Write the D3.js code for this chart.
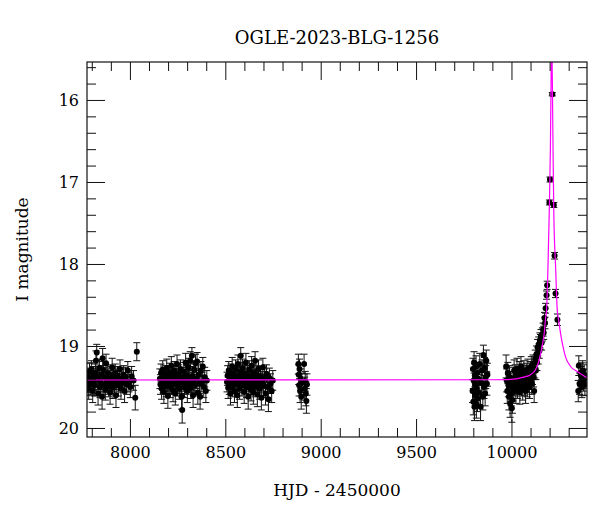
<!DOCTYPE html>
<html>
<head>
<meta charset="utf-8">
<script src="https://cdn.jsdelivr.net/npm/d3@7"></script>
<style>
  body { margin: 0; background: #fff; }
  text { font-family: "DejaVu Serif", serif; fill: #000; }
</style>
</head>
<body>
<div id="chart"></div>
<script>
// photometry per observing season: [HJD-2450000, I mag, error]
const season1 = [[7778,19.45,0.12],[7781,19.38,0.11],[7784,19.52,0.13],[7788,19.31,0.10],[7791,19.44,0.12],[7795,19.47,0.12],[7798,19.29,0.11],[7802,19.40,0.12],[7805,19.55,0.14],[7809,19.36,0.11],[7812,19.42,0.12],[7815,19.48,0.13],[7819,19.33,0.11],[7822,19.18,0.12],[7826,19.08,0.10],[7829,19.39,0.12],[7833,19.58,0.14],[7836,19.41,0.12],[7840,19.27,0.11],[7843,19.50,0.13],[7847,19.44,0.12],[7850,19.35,0.11],[7854,19.62,0.15],[7857,19.15,0.12],[7861,19.30,0.11],[7864,19.47,0.12],[7868,19.38,0.12],[7871,19.53,0.13],[7875,19.21,0.11],[7878,19.45,0.12],[7882,19.40,0.12],[7885,19.34,0.11],[7889,19.49,0.13],[7893,19.42,0.12],[7896,19.57,0.14],[7900,19.37,0.12],[7904,19.44,0.12],[7907,19.26,0.11],[7911,19.51,0.13],[7915,19.39,0.12],[7919,19.46,0.12],[7923,19.33,0.11],[7927,19.60,0.15],[7931,19.41,0.12],[7935,19.36,0.11],[7939,19.48,0.13],[7944,19.43,0.12],[7948,19.28,0.11],[7953,19.52,0.13],[7957,19.40,0.12],[7962,19.45,0.12],[7967,19.35,0.11],[7972,19.55,0.14],[7977,19.38,0.12],[7983,19.47,0.12],[7989,19.30,0.11],[7995,19.44,0.12],[8002,19.50,0.13],[8009,19.37,0.12],[8019,19.42,0.12],[8028,19.63,0.15],[8036,19.07,0.11]];
const season2 = [[8157,19.40,0.12],[8160,19.47,0.12],[8163,19.33,0.11],[8166,19.52,0.13],[8169,19.41,0.12],[8172,19.29,0.11],[8175,19.45,0.12],[8178,19.56,0.14],[8181,19.38,0.12],[8184,19.43,0.12],[8187,19.35,0.11],[8190,19.49,0.13],[8193,19.27,0.11],[8196,19.44,0.12],[8199,19.61,0.15],[8202,19.39,0.12],[8205,19.46,0.12],[8208,19.32,0.11],[8211,19.50,0.13],[8214,19.42,0.12],[8217,19.24,0.11],[8220,19.47,0.12],[8223,19.37,0.12],[8226,19.54,0.14],[8229,19.41,0.12],[8232,19.30,0.11],[8235,19.45,0.12],[8238,19.58,0.14],[8241,19.36,0.12],[8244,19.43,0.12],[8247,19.22,0.11],[8250,19.48,0.13],[8253,19.40,0.12],[8256,19.34,0.11],[8259,19.52,0.13],[8262,19.44,0.12],[8265,19.28,0.11],[8268,19.46,0.12],[8271,19.62,0.15],[8274,19.78,0.16],[8277,19.38,0.12],[8280,19.43,0.12],[8283,19.31,0.11],[8286,19.50,0.13],[8289,19.41,0.12],[8292,19.20,0.11],[8295,19.47,0.12],[8298,19.36,0.12],[8301,19.55,0.14],[8304,19.42,0.12],[8307,19.26,0.11],[8310,19.45,0.12],[8313,19.39,0.12],[8316,19.18,0.11],[8319,19.51,0.13],[8322,19.44,0.12],[8325,19.12,0.10],[8328,19.37,0.12],[8331,19.60,0.15],[8334,19.42,0.12],[8337,19.29,0.11],[8340,19.48,0.13],[8344,19.21,0.11],[8348,19.40,0.12],[8352,19.19,0.11],[8356,19.57,0.14],[8360,19.35,0.12],[8364,19.46,0.12],[8368,19.62,0.15],[8372,19.30,0.11],[8377,19.44,0.12],[8382,19.25,0.11],[8387,19.50,0.13],[8392,19.38,0.12],[8398,19.55,0.14],[8403,19.42,0.12]];
const season3 = [[8509,19.44,0.12],[8512,19.36,0.12],[8515,19.51,0.13],[8518,19.30,0.11],[8521,19.47,0.12],[8524,19.40,0.12],[8527,19.58,0.14],[8530,19.33,0.11],[8533,19.45,0.12],[8536,19.25,0.11],[8539,19.49,0.13],[8542,19.41,0.12],[8545,19.35,0.11],[8548,19.55,0.14],[8551,19.43,0.12],[8554,19.28,0.11],[8557,19.46,0.12],[8560,19.38,0.12],[8563,19.60,0.15],[8566,19.22,0.11],[8569,19.44,0.12],[8572,19.37,0.12],[8575,19.52,0.13],[8578,19.31,0.11],[8581,19.12,0.10],[8584,19.42,0.12],[8587,19.48,0.13],[8590,19.27,0.11],[8593,19.45,0.12],[8596,19.39,0.12],[8599,19.56,0.14],[8602,19.34,0.11],[8605,19.46,0.12],[8608,19.20,0.11],[8611,19.50,0.13],[8614,19.41,0.12],[8617,19.36,0.12],[8620,19.62,0.15],[8623,19.43,0.12],[8626,19.29,0.11],[8629,19.47,0.12],[8632,19.38,0.12],[8635,19.53,0.14],[8638,19.24,0.11],[8641,19.44,0.12],[8644,19.40,0.12],[8647,19.57,0.14],[8650,19.33,0.11],[8653,19.46,0.12],[8656,19.18,0.11],[8659,19.49,0.13],[8662,19.42,0.12],[8665,19.35,0.11],[8668,19.59,0.15],[8671,19.41,0.12],[8674,19.28,0.11],[8677,19.45,0.12],[8681,19.52,0.13],[8685,19.37,0.12],[8689,19.63,0.15],[8693,19.43,0.12],[8697,19.26,0.11],[8701,19.48,0.13],[8706,19.40,0.12],[8711,19.58,0.14],[8716,19.34,0.11],[8721,19.50,0.13],[8726,19.65,0.15],[8731,19.39,0.12],[8737,19.46,0.12],[8743,19.55,0.14],[8749,19.42,0.12]];
const season4 = [[8883,19.22,0.12],[8885,19.35,0.12],[8887,19.48,0.13],[8889,19.28,0.12],[8892,19.55,0.14],[8895,19.40,0.12],[8898,19.62,0.15],[8901,19.45,0.12],[8913,19.22,0.12],[8916,19.52,0.14],[8919,19.43,0.12],[8922,19.58,0.15],[8925,19.67,0.15],[8928,19.47,0.13]];
const season5 = [[9796,19.55,0.14],[9798,19.28,0.13],[9800,19.68,0.16],[9802,19.42,0.14],[9804,19.20,0.13],[9806,19.74,0.17],[9808,19.36,0.14],[9810,19.60,0.15],[9812,19.47,0.14],[9814,19.25,0.13],[9816,19.71,0.17],[9818,19.52,0.14],[9820,19.33,0.13],[9822,19.64,0.16],[9826,19.40,0.14],[9830,19.57,0.15],[9834,19.22,0.13],[9838,19.74,0.17],[9842,19.45,0.14],[9846,19.30,0.13],[9850,19.62,0.16],[9853,19.11,0.12],[9856,19.50,0.14],[9859,19.27,0.13],[9862,19.58,0.15],[9865,19.38,0.14],[9868,19.18,0.13],[9871,19.46,0.14],[9874,19.35,0.14]];
const season6 = [[9972,19.25,0.14],[9975,19.42,0.14],[9978,19.55,0.15],[9981,19.33,0.13],[9984,19.48,0.14],[9987,19.62,0.16],[9990,19.38,0.14],[9993,19.70,0.17],[9996,19.45,0.14],[9999,19.58,0.15],[10002,19.76,0.17],[10005,19.66,0.16],[10008,19.52,0.15],[10011,19.40,0.14],[10014,19.30,0.13],[10017,19.47,0.14],[10020,19.36,0.13],[10023,19.55,0.15],[10026,19.43,0.14],[10029,19.28,0.13],[10032,19.50,0.14],[10035,19.38,0.13],[10038,19.45,0.14],[10041,19.32,0.13],[10044,19.56,0.15],[10047,19.41,0.14],[10050,19.25,0.12],[10053,19.47,0.14],[10056,19.35,0.13],[10059,19.52,0.14],[10062,19.40,0.13],[10065,19.30,0.12],[10068,19.46,0.14],[10071,19.37,0.13],[10074,19.55,0.15],[10077,19.42,0.13],[10080,19.33,0.12],[10083,19.48,0.14],[10086,19.28,0.12],[10089,19.44,0.13],[10092,19.36,0.12],[10095,19.50,0.14],[10098,19.31,0.12],[10101,19.40,0.13],[10104,19.25,0.12],[10107,19.46,0.13],[10110,19.35,0.12],[10113,19.22,0.11],[10116,19.38,0.12],[10119,19.55,0.14],[10122,19.28,0.11],[10125,19.16,0.11],[10128,19.30,0.11],[10131,19.10,0.10],[10134,19.20,0.10],[10137,19.02,0.10],[10140,19.12,0.10],[10143,18.98,0.09],[10146,19.06,0.09],[10149,18.93,0.09],[10152,18.95,0.09],[10155,18.88,0.08],[10158,18.96,0.09],[10162,18.86,0.08],[10166,18.80,0.08],[10169,18.84,0.08],[10173,18.66,0.07],[10176,18.72,0.07],[10179,18.54,0.06],[10184,18.38,0.05],[10187,18.26,0.05],[10199,17.25,0.03],[10202,16.97,0.03]];
const peakFall = [[10214,15.93,0.02],[10222,17.28,0.03],[10226,17.90,0.04],[10231,18.36,0.05],[10241,18.68,0.07]];
const season7 = [[10350,19.55,0.13],[10353,19.24,0.12],[10357,19.46,0.13],[10361,19.33,0.12],[10365,19.37,0.12],[10369,19.50,0.13],[10373,19.30,0.12],[10377,19.42,0.13],[10381,19.35,0.12],[10385,19.47,0.13],[10389,19.40,0.12]];

// fitted model curve
const modelT = [7775, 9900, 9979, 10065, 10100, 10126, 10143, 10161, 10173, 10178, 10184, 10191, 10198, 10204, 10208, 10211, 10214, 10218, 10222, 10232, 10240, 10247, 10257, 10266, 10283, 10310, 10345, 10397];
const modelM = [19.415, 19.412, 19.41, 19.38, 19.35, 19.29, 19.19, 19.00, 18.82, 18.68, 18.56, 18.07, 17.38, 16.61, 15.7, 15.2, 15.7, 16.61, 17.38, 18.07, 18.56, 18.68, 18.84, 18.96, 19.13, 19.25, 19.31, 19.39];

const xMajor = [8000, 8500, 9000, 9500, 10000];
const yMajor = [16, 17, 18, 19, 20];

const width = 600, height = 512;
const margin = { left: 87, right: 13, top: 62, bottom: 75 };
const x0 = margin.left, x1 = width - margin.right;
const y0 = margin.top, y1 = height - margin.bottom;

const xScale = d3.scaleLinear().domain([7775, 10396]).range([x0, x1]);
const yScale = d3.scaleLinear().domain([15.537, 20.11]).range([y0, y1]);

const svg = d3.select("#chart").append("svg")
    .attr("width", width)
    .attr("height", height);

svg.append("defs").append("clipPath").attr("id", "plotclip")
    .append("rect")
    .attr("x", x0).attr("y", y0)
    .attr("width", x1 - x0).attr("height", y1 - y0);

const plot = svg.append("g").attr("clip-path", "url(#plotclip)");

const points = [].concat(season1, season2, season3, season4, season5, season6, peakFall, season7);

// error bars
const bars = plot.append("g")
    .attr("stroke", "#111")
    .attr("stroke-width", 1);
points.forEach(d => {
    const px = xScale(d[0]);
    const ya = yScale(d[1] - d[2]), yb = yScale(d[1] + d[2]);
    bars.append("line").attr("x1", px).attr("x2", px).attr("y1", ya).attr("y2", yb);
    bars.append("line").attr("x1", px - 3.5).attr("x2", px + 3.5).attr("y1", ya).attr("y2", ya);
    bars.append("line").attr("x1", px - 3.5).attr("x2", px + 3.5).attr("y1", yb).attr("y2", yb);
});

plot.append("g")
    .selectAll("circle")
    .data(points)
    .join("circle")
    .attr("cx", d => xScale(d[0]))
    .attr("cy", d => yScale(d[1]))
    .attr("r", 3)
    .attr("fill", "#000");

const line = d3.line()
    .x((d, i) => xScale(modelT[i]))
    .y(d => yScale(d))
    .curve(d3.curveMonotoneX);

plot.append("path")
    .datum(modelM)
    .attr("d", line)
    .attr("fill", "none")
    .attr("stroke", "#ff00ff")
    .attr("stroke-width", 1.2);

// axes: major and minor ticks, all pointing inward
const xMinor = d3.range(7800, 10400, 100).filter(v => !xMajor.includes(v));
const yMinor = d3.range(15.6, 20.1, 0.2).map(v => +v.toFixed(1)).filter(v => !yMajor.includes(v));

function styleAxis(g) {
    g.select(".domain").remove();
    g.selectAll(".tick line").attr("stroke", "#111").attr("stroke-width", 1);
    g.selectAll(".tick text").style("font-size", "16px").attr("fill", "#000");
}

svg.append("g").attr("transform", `translate(0,${y1})`)
    .call(d3.axisBottom(xScale).tickValues(xMajor).tickSize(-18).tickPadding(10).tickFormat(d3.format("d")))
    .call(styleAxis);
svg.append("g").attr("transform", `translate(0,${y1})`)
    .call(d3.axisBottom(xScale).tickValues(xMinor).tickSize(-9).tickFormat(""))
    .call(styleAxis);
svg.append("g").attr("transform", `translate(0,${y0})`)
    .call(d3.axisTop(xScale).tickValues(xMajor).tickSize(-18).tickFormat(""))
    .call(styleAxis);
svg.append("g").attr("transform", `translate(0,${y0})`)
    .call(d3.axisTop(xScale).tickValues(xMinor).tickSize(-9).tickFormat(""))
    .call(styleAxis);

svg.append("g").attr("transform", `translate(${x0},0)`)
    .call(d3.axisLeft(yScale).tickValues(yMajor).tickSize(-18).tickPadding(8).tickFormat(d3.format("d")))
    .call(styleAxis);
svg.append("g").attr("transform", `translate(${x0},0)`)
    .call(d3.axisLeft(yScale).tickValues(yMinor).tickSize(-9).tickFormat(""))
    .call(styleAxis);
svg.append("g").attr("transform", `translate(${x1},0)`)
    .call(d3.axisRight(yScale).tickValues(yMajor).tickSize(-18).tickFormat(""))
    .call(styleAxis);
svg.append("g").attr("transform", `translate(${x1},0)`)
    .call(d3.axisRight(yScale).tickValues(yMinor).tickSize(-9).tickFormat(""))
    .call(styleAxis);

svg.append("rect")
    .attr("x", x0).attr("y", y0)
    .attr("width", x1 - x0).attr("height", y1 - y0)
    .attr("fill", "none")
    .attr("stroke", "#111")
    .attr("stroke-width", 1.2);

svg.append("text")
    .attr("x", (x0 + x1) / 2).attr("y", 44)
    .attr("text-anchor", "middle")
    .style("font-size", "18px")
    .text("OGLE-2023-BLG-1256");

svg.append("text")
    .attr("x", (x0 + x1) / 2).attr("y", 496)
    .attr("text-anchor", "middle")
    .style("font-size", "17px")
    .text("HJD - 2450000");

svg.append("text")
    .attr("transform", `translate(28,${(y0 + y1) / 2}) rotate(-90)`)
    .attr("text-anchor", "middle")
    .style("font-size", "17px")
    .text("I magnitude");
</script>
</body>
</html>
